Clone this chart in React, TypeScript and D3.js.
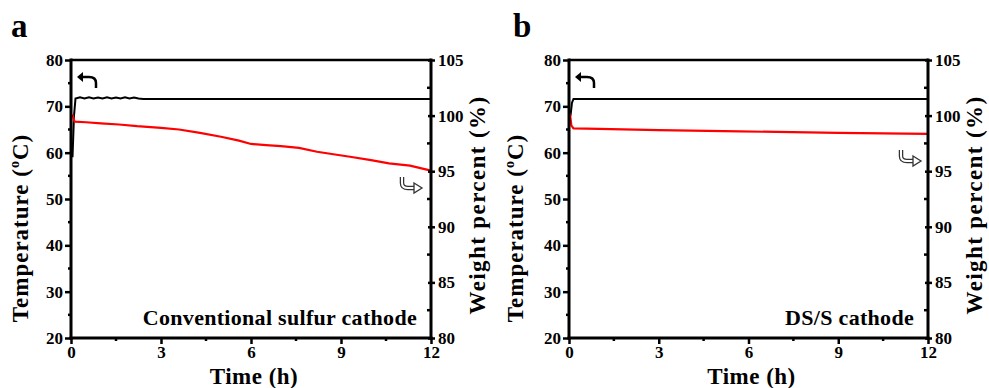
import React, { useRef, useEffect } from 'react';
import * as d3 from 'd3';

// axis ticks
const timeTicks = [0, 3, 6, 9, 12];
const timeMinor = [1.5, 4.5, 7.5, 10.5];
const tempTicks = [20, 30, 40, 50, 60, 70, 80];
const tempMinor = [25, 35, 45, 55, 65, 75];
const weightTicks = [80, 85, 90, 95, 100, 105];
const weightMinor = [82.5, 87.5, 92.5, 97.5, 102.5];

// panel a: conventional sulfur cathode
const tempTimeA = [0.05, 0.1, 0.15, 0.3, 0.45, 0.6, 0.75, 0.9, 1.05, 1.2, 1.35, 1.5, 1.65, 1.8, 1.95, 2.1, 2.25, 2.4, 6, 12];
const tempValA = [59, 68, 71.7, 71.95, 71.7, 71.95, 71.7, 71.9, 71.7, 71.95, 71.7, 71.9, 71.7, 71.95, 71.7, 71.9, 71.7, 71.6, 71.6, 71.6];
const weightTimeA = [0.05, 0.12, 0.5, 1.0, 1.6, 2.2, 3.0, 3.6, 4.3, 5.0, 5.6, 6.0, 6.5, 7.0, 7.6, 8.2, 8.8, 9.3, 10.0, 10.6, 11.3, 12];
const weightValA = [100.1, 99.45, 99.4, 99.3, 99.2, 99.05, 98.9, 98.75, 98.45, 98.1, 97.75, 97.45, 97.35, 97.25, 97.1, 96.75, 96.5, 96.3, 96.0, 95.7, 95.5, 95.05];

// panel b: DS/S cathode
const tempTimeB = [0.05, 0.1, 0.15, 12];
const tempValB = [68, 70.8, 71.6, 71.6];
const weightTimeB = [0.03, 0.08, 0.15, 1, 3, 5.7, 9, 12];
const weightValB = [100.2, 99.1, 98.85, 98.8, 98.7, 98.58, 98.45, 98.35];

const FONT = '"Liberation Serif", "Times New Roman", serif';

const panels = [
  {
    letter: 'a', letterX: 11, left: 71, right: 431, label: 'Conventional sulfur cathode',
    tempT: tempTimeA, tempV: tempValA, wT: weightTimeA, wV: weightValA,
    tempTitleX: 28, weightTitleX: 485, hookX: 402, hookY: 177,
  },
  {
    letter: 'b', letterX: 513, left: 569, right: 928, label: 'DS/S cathode',
    tempT: tempTimeB, tempV: tempValB, wT: weightTimeB, wV: weightValB,
    tempTitleX: 523, weightTitleX: 982, hookX: 901, hookY: 150,
  },
];

function App() {
  const svgRef = useRef<SVGSVGElement>(null);

  useEffect(() => {
    const svg = d3.select(svgRef.current);
    svg.selectAll('*').remove();
    const top = 60;
    const bottom = 338;

    panels.forEach((p) => {
      const g = svg.append('g');
      const x = d3.scaleLinear().domain([0, 12]).range([p.left, p.right]);
      const yT = d3.scaleLinear().domain([20, 80]).range([bottom, top]);
      const yW = d3.scaleLinear().domain([80, 105]).range([bottom, top]);

      // data lines
      const tempData = p.tempT.map((t, i) => [t, p.tempV[i]]);
      const wData = p.wT.map((t, i) => [t, p.wV[i]]);
      g.append('path')
        .datum(tempData)
        .attr('fill', 'none')
        .attr('stroke', '#000')
        .attr('stroke-width', 2)
        .attr('d', d3.line().x((d) => x(d[0])).y((d) => yT(d[1])));
      g.append('path')
        .datum(wData)
        .attr('fill', 'none')
        .attr('stroke', '#ff0000')
        .attr('stroke-width', 2.2)
        .attr('d', d3.line().x((d) => x(d[0])).y((d) => yW(d[1])));

      // frame
      g.append('line').attr('x1', p.left).attr('x2', p.right).attr('y1', top).attr('y2', top)
        .attr('stroke', '#000').attr('stroke-width', 2.5);

      // left axis
      const left = g.append('g').attr('transform', `translate(${p.left},0)`)
        .call(d3.axisLeft(yT).tickValues(tempTicks).tickSize(6).tickPadding(2));
      left.append('g').selectAll('line').data(tempMinor).join('line')
        .attr('x1', -3).attr('x2', 0).attr('y1', (d) => yT(d)).attr('y2', (d) => yT(d))
        .attr('stroke', '#000').attr('stroke-width', 2.5);

      // right axis
      const right = g.append('g').attr('transform', `translate(${p.right},0)`)
        .call(d3.axisRight(yW).tickValues(weightTicks).tickSize(4).tickPadding(3));
      right.selectAll('.tick line').attr('x1', -3);
      right.append('g').selectAll('line').data(weightMinor).join('line')
        .attr('x1', -4).attr('x2', 0).attr('y1', (d) => yW(d)).attr('y2', (d) => yW(d))
        .attr('stroke', '#000').attr('stroke-width', 2.5);

      // bottom axis
      const bot = g.append('g').attr('transform', `translate(0,${bottom})`)
        .call(d3.axisBottom(x).tickValues(timeTicks).tickSize(6).tickPadding(2));
      bot.append('g').selectAll('line').data(timeMinor).join('line')
        .attr('x1', (d) => x(d)).attr('x2', (d) => x(d)).attr('y1', 0).attr('y2', 3)
        .attr('stroke', '#000').attr('stroke-width', 2.5);

      [left, right, bot].forEach((a) => {
        a.select('.domain').attr('stroke-width', 3);
        a.selectAll('.tick line').attr('stroke-width', 2.5);
        a.selectAll('text').attr('font-family', FONT).attr('font-weight', 'bold')
          .attr('font-size', 17).attr('fill', '#000');
      });
      left.select('.domain').attr('d', `M0,${top - 1.5}V${bottom + 1.5}`);
      right.select('.domain').attr('d', `M0,${top - 1.5}V${bottom + 1.5}`);
      bot.select('.domain').attr('d', `M${p.left - 1.5},0H${p.right + 1.5}`);

      // titles
      const txt = (sel: any) => sel.attr('font-family', FONT).attr('font-weight', 'bold').attr('fill', '#000');
      txt(g.append('text')).attr('x', p.letterX).attr('y', 37).attr('font-size', 33).text(p.letter);
      txt(g.append('text')).attr('x', (p.left + p.right) / 2 + 3).attr('y', 384)
        .attr('text-anchor', 'middle').attr('font-size', 23).attr('letter-spacing', 0.5).text('Time (h)');

      const tt = txt(g.append('text'))
        .attr('transform', `translate(${p.tempTitleX},228) rotate(-90)`)
        .attr('text-anchor', 'middle').attr('font-size', 23).attr('letter-spacing', 1);
      tt.append('tspan').text('Temperature (');
      tt.append('tspan').attr('font-size', 14).attr('dy', -9).text('o');
      tt.append('tspan').attr('dy', 9).text('C)');

      txt(g.append('text'))
        .attr('transform', `translate(${p.weightTitleX},205) rotate(-90)`)
        .attr('text-anchor', 'middle').attr('font-size', 23).attr('letter-spacing', 1.4)
        .text('Weight percent (%)');

      txt(g.append('text')).attr('x', p.right - 14).attr('y', 325)
        .attr('text-anchor', 'end').attr('font-size', 22).attr('letter-spacing', 0.3).text(p.label);

      // arrow pointing to temperature axis
      const ax = p.left + 6;
      g.append('path')
        .attr('d', `M${ax + 19},${88} V${83} Q${ax + 19},${77} ${ax + 12},${77} H${ax + 4}`)
        .attr('fill', 'none').attr('stroke', '#000').attr('stroke-width', 2.5);
      g.append('path')
        .attr('d', `M${ax},${77} L${ax + 6},${72} L${ax + 6},${82} Z`)
        .attr('fill', '#000');

      // hollow arrow pointing to weight axis
      const hx = p.hookX;
      const hy = p.hookY;
      const hook = `M${hx},${hy} V${hy + 6} Q${hx},${hy + 11} ${hx + 6},${hy + 11} H${hx + 13}`;
      g.append('path').attr('d', hook).attr('fill', 'none').attr('stroke', '#333').attr('stroke-width', 4.5);
      g.append('path').attr('d', hook).attr('fill', 'none').attr('stroke', '#fff').attr('stroke-width', 2);
      g.append('path')
        .attr('d', `M${hx + 12},${hy + 6} L${hx + 20},${hy + 11} L${hx + 12},${hy + 16} Z`)
        .attr('fill', '#fff').attr('stroke', '#333').attr('stroke-width', 1.3);
    });
  }, []);

  return (
    <svg
      ref={svgRef}
      width={989}
      height={388}
      style={{ position: 'absolute', left: 0, top: 0, background: '#fff', display: 'block' }}
    />
  );
}

export default App;
